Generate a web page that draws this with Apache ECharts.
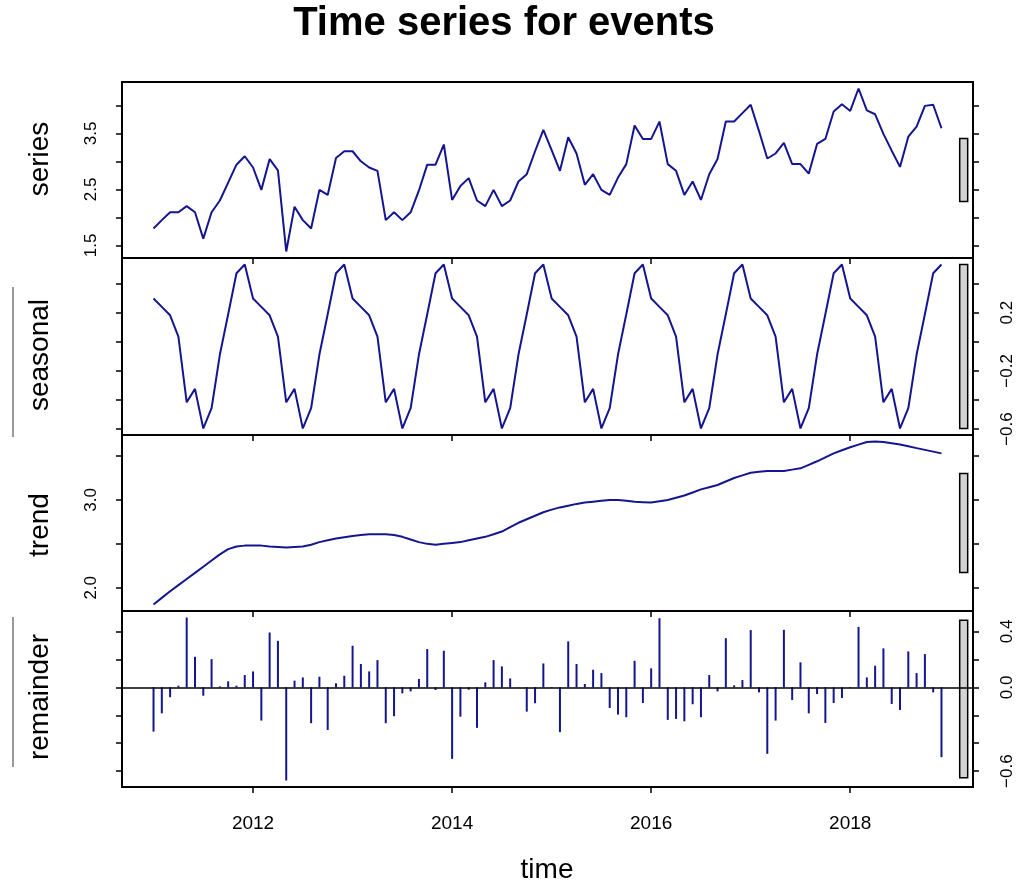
<!DOCTYPE html>
<html><head><meta charset="utf-8">
<script src="https://cdn.jsdelivr.net/npm/echarts@6/dist/echarts.min.js"></script>
<style>html,body{margin:0;padding:0;background:#fff}#c{width:1021px;height:888px}</style>
</head><body><div id="c"></div>
<script>
// ---- data (monthly, starting Jan 2011) ----
const startYear = 2011;
const frequency = 12;
const seriesValues = [
  1.80, 1.95, 2.09, 2.09, 2.20, 2.09, 1.62, 2.09, 2.30, 2.62, 2.94, 3.09,
  2.89, 2.49, 3.04, 2.84, 1.39, 2.19, 1.95, 1.80, 2.49, 2.40, 3.06, 3.18,
  3.18, 3.00, 2.89, 2.83, 1.95, 2.09, 1.95, 2.09, 2.48, 2.94, 2.94, 3.30,
  2.31, 2.56, 2.70, 2.30, 2.20, 2.49, 2.20, 2.30, 2.64, 2.77, 3.18, 3.56,
  3.20, 2.83, 3.43, 3.14, 2.58, 2.77, 2.49, 2.40, 2.71, 2.95, 3.64, 3.40,
  3.40, 3.71, 2.95, 2.83, 2.40, 2.64, 2.31, 2.77, 3.04, 3.71, 3.71, 3.86,
  4.01, 3.54, 3.05, 3.14, 3.33, 2.95, 2.95, 2.78, 3.31, 3.40, 3.89, 4.02,
  3.90, 4.30, 3.91, 3.84, 3.49, 3.19, 2.90, 3.44, 3.62, 3.99, 4.01, 3.59
];
const seasonalValues = [
  0.298, 0.240, 0.182, 0.035, -0.416, -0.324, -0.596, -0.457, -0.088, 0.189, 0.471, 0.531,
  0.298, 0.240, 0.182, 0.035, -0.416, -0.324, -0.596, -0.457, -0.088, 0.189, 0.471, 0.531,
  0.298, 0.240, 0.182, 0.035, -0.416, -0.324, -0.596, -0.457, -0.088, 0.189, 0.471, 0.531,
  0.298, 0.240, 0.182, 0.035, -0.416, -0.324, -0.596, -0.457, -0.088, 0.189, 0.471, 0.531,
  0.298, 0.240, 0.182, 0.035, -0.416, -0.324, -0.596, -0.457, -0.088, 0.189, 0.471, 0.531,
  0.298, 0.240, 0.182, 0.035, -0.416, -0.324, -0.596, -0.457, -0.088, 0.189, 0.471, 0.531,
  0.298, 0.240, 0.182, 0.035, -0.416, -0.324, -0.596, -0.457, -0.088, 0.189, 0.471, 0.531,
  0.298, 0.240, 0.182, 0.035, -0.416, -0.324, -0.596, -0.457, -0.088, 0.189, 0.471, 0.531
];
const trendValues = [
  1.81, 1.885, 1.96, 2.03, 2.10, 2.17, 2.24, 2.31, 2.38, 2.44, 2.47, 2.48,
  2.48, 2.48, 2.47, 2.465, 2.46, 2.465, 2.47, 2.49, 2.52, 2.54, 2.56, 2.575,
  2.59, 2.60, 2.61, 2.61, 2.61, 2.60, 2.58, 2.55, 2.52, 2.50, 2.49, 2.50,
  2.51, 2.52, 2.54, 2.56, 2.58, 2.61, 2.64, 2.69, 2.74, 2.78, 2.82, 2.86,
  2.89, 2.915, 2.935, 2.955, 2.97, 2.98, 2.99, 3.00, 3.00, 2.99, 2.98, 2.975,
  2.97, 2.985, 3.00, 3.025, 3.05, 3.085, 3.12, 3.145, 3.17, 3.21, 3.25, 3.28,
  3.31, 3.32, 3.33, 3.33, 3.33, 3.345, 3.36, 3.40, 3.44, 3.485, 3.53, 3.565,
  3.60, 3.63, 3.66, 3.665, 3.66, 3.645, 3.63, 3.61, 3.59, 3.57, 3.55, 3.53
];
const remainderValues = [
  -0.317, -0.186, -0.071, 0.012, 0.500, 0.219, -0.060, 0.202, 0.007, 0.043, 0.012, 0.088,
  0.114, -0.238, 0.393, 0.333, -0.667, 0.048, 0.071, -0.257, 0.076, -0.305, 0.029, 0.083,
  0.298, 0.167, 0.114, 0.195, -0.257, -0.207, -0.043, -0.029, 0.060, 0.274, -0.019, 0.262,
  -0.512, -0.210, -0.017, -0.290, 0.036, 0.195, 0.150, 0.064, 0.002, -0.174, -0.114, 0.171,
  -0.005, -0.321, 0.329, 0.167, 0.024, 0.126, 0.102, -0.148, -0.195, -0.214, 0.190, -0.112,
  0.136, 0.495, -0.233, -0.226, -0.243, -0.121, -0.214, 0.088, -0.029, 0.352, 0.014, 0.052,
  0.410, -0.036, -0.476, -0.238, 0.412, -0.090, 0.179, -0.186, -0.048, -0.255, -0.112, -0.076,
  -0.005, 0.433, 0.071, 0.155, 0.279, -0.119, -0.162, 0.257, 0.102, 0.238, -0.036, -0.500
];
const panelNames = ['series', 'seasonal', 'trend', 'remainder'];
const xTickValues = [2012, 2014, 2016, 2018];
const yTickValues = [
  [1.5, 2.0, 2.5, 3.0, 3.5, 4.0],
  [-0.6, -0.4, -0.2, 0.0, 0.2, 0.4],
  [2.0, 2.5, 3.0, 3.5],
  [-0.6, -0.4, -0.2, 0.0, 0.2, 0.4]
];
const yLabelValues = [
  [1.5, 2.5, 3.5],
  [-0.6, -0.2, 0.2],
  [2.0, 3.0],
  [-0.6, 0.0, 0.4]
];
const titleText = 'Time series for events';
const xAxisTitle = 'time';

// ---- layout ----
const LINE = '#15158f';
const FONT = '"Liberation Sans", Arial, sans-serif';
const gridTops = [82, 258, 435, 611];
const gridHeights = [176, 177, 176, 176];
const labelOnRight = [false, true, false, true];
const nameCenters = [159, 355, 525, 697];

const times = seriesValues.map((_, i) => startYear + i / frequency);
const comps = [seriesValues, seasonalValues, trendValues, remainderValues];
function ext(a) { const lo = Math.min(...a), hi = Math.max(...a), r = hi - lo; return [lo - 0.04 * r, hi + 0.04 * r]; }
const xr = ext(times);
const yr = comps.map(ext);
const ranges = comps.map(a => Math.max(...a) - Math.min(...a));
const mx = Math.min(...ranges);
const dx = (xr[1] - xr[0]) / 64;
const fmt = v => v.toFixed(1).replace('-', '\u2212');

const grids = [], xAxes = [], yAxes = [], seriesList = [];
for (let i = 0; i < 4; i++) {
  grids.push({ left: 122, right: 48, top: gridTops[i], height: gridHeights[i], show: true,
    borderColor: '#000', borderWidth: 2, backgroundColor: 'transparent' });
  xAxes.push({ type: 'value', gridIndex: i, min: xr[0], max: xr[1], position: 'bottom',
    axisLine: { show: false, onZero: false }, splitLine: { show: false },
    axisTick: { show: true, length: 6, inside: false, customValues: xTickValues, lineStyle: { color: '#000', width: 1.5 } },
    axisLabel: { show: i === 3, customValues: xTickValues, margin: 27, fontSize: 19, color: '#000', fontFamily: FONT,
      formatter: v => String(Math.round(v)) } });
  ['left', 'right'].forEach((pos) => {
    const showLab = (pos === 'right') === labelOnRight[i];
    yAxes.push({ type: 'value', gridIndex: i, position: pos, min: yr[i][0], max: yr[i][1],
      axisLine: { show: false, onZero: false }, splitLine: { show: false },
      axisTick: { show: true, length: 6, inside: false, customValues: yTickValues[i], lineStyle: { color: '#000', width: 1.5 } },
      axisLabel: { show: showLab, customValues: yLabelValues[i], rotate: 90, margin: pos === 'left' ? 22 : 26,
        fontSize: 17, color: '#000', fontFamily: FONT, formatter: fmt } });
  });
  const yIdx = 2 * i;
  if (i < 3) {
    seriesList.push({ type: 'line', xAxisIndex: i, yAxisIndex: yIdx, showSymbol: false, symbol: 'none',
      data: times.map((t, j) => [t, comps[i][j]]), lineStyle: { color: LINE, width: 2 }, itemStyle: { color: LINE },
      animation: false, silent: true });
  } else {
    seriesList.push({ type: 'custom', xAxisIndex: i, yAxisIndex: yIdx, animation: false, silent: true,
      data: times.map((t, j) => [t, comps[i][j]]),
      encode: { x: 0, y: 1 },
      renderItem: (params, api) => {
        const a = api.coord([api.value(0), 0]);
        const b = api.coord([api.value(0), api.value(1)]);
        return { type: 'line', shape: { x1: a[0], y1: a[1], x2: b[0], y2: b[1] }, style: { stroke: LINE, lineWidth: 2 } };
      },
      markLine: { silent: true, symbol: 'none', animation: false, label: { show: false },
        lineStyle: { color: '#000', width: 1.5, type: 'solid' }, data: [{ yAxis: 0 }] } });
  }
  // range bar
  const center = (Math.min(...comps[i]) + Math.max(...comps[i])) / 2;
  seriesList.push({ type: 'custom', xAxisIndex: i, yAxisIndex: yIdx, animation: false, silent: true, clip: false,
    data: [[xr[1] - dx, center - mx / 2, xr[1] - 0.4 * dx, center + mx / 2]],
    encode: { x: [0, 2], y: [1, 3] },
    renderItem: (params, api) => {
      const p0 = api.coord([api.value(0), api.value(1)]);
      const p1 = api.coord([api.value(2), api.value(3)]);
      return { type: 'rect', shape: { x: p0[0], y: p1[1], width: p1[0] - p0[0], height: p0[1] - p1[1] },
        style: { fill: '#d3d3d3', stroke: '#000', lineWidth: 1.5 } };
    } });
}

const graphics = [
  { type: 'text', x: 504, y: 24, style: { text: titleText, font: 'bold 40px ' + FONT, fill: '#000', align: 'center', verticalAlign: 'middle' } },
  { type: 'text', x: 547, y: 870, style: { text: xAxisTitle, font: '28px ' + FONT, fill: '#000', align: 'center', verticalAlign: 'middle' } },
  { type: 'line', shape: { x1: 13, y1: 287, x2: 13, y2: 437 }, style: { stroke: '#333', lineWidth: 1 } },
  { type: 'line', shape: { x1: 13, y1: 617, x2: 13, y2: 767 }, style: { stroke: '#333', lineWidth: 1 } }
];
panelNames.forEach((n, i) => {
  graphics.push({ type: 'text', x: 40, y: nameCenters[i], rotation: Math.PI / 2,
    style: { text: n, font: '28px ' + FONT, fill: '#000', align: 'center', verticalAlign: 'middle' } });
});

const chart = echarts.init(document.getElementById('c'), null, { renderer: 'canvas' });
chart.setOption({ animation: false, backgroundColor: '#fff', grid: grids, xAxis: xAxes, yAxis: yAxes, series: seriesList, graphic: graphics });
</script></body></html>
